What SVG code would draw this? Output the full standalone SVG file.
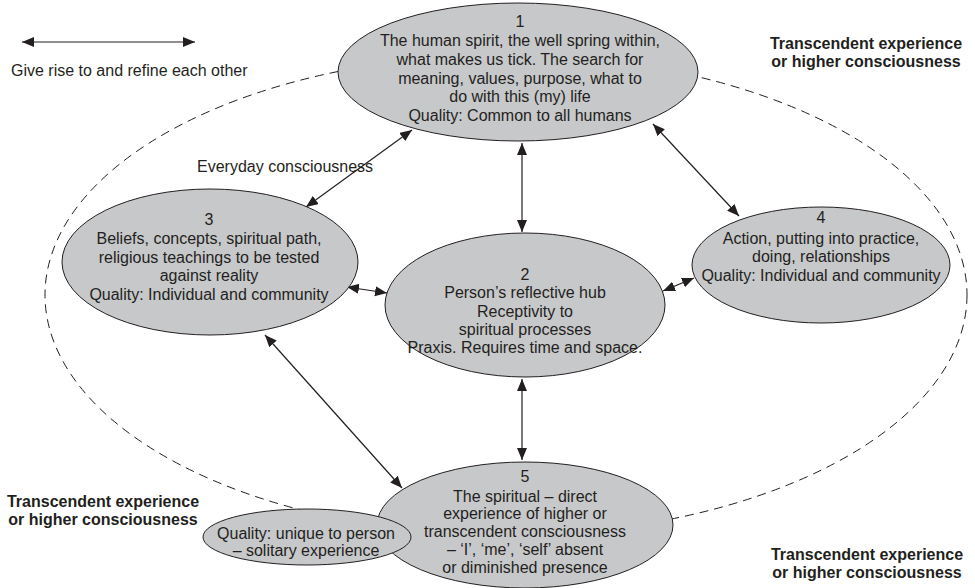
<svg xmlns="http://www.w3.org/2000/svg" width="975" height="588" viewBox="0 0 975 588">
<style>
.n{fill:#c7c8ca;stroke:#231f20;stroke-width:1}
.t{font-family:"Liberation Sans",Arial,sans-serif;font-size:16px;fill:#231f20;text-anchor:middle}
.b{font-family:"Liberation Sans",Arial,sans-serif;font-size:16px;font-weight:bold;fill:#231f20;text-anchor:middle}
.c{stroke:#231f20;stroke-width:1.2;fill:none;marker-start:url(#ah);marker-end:url(#ah)}
</style>
<defs>
<marker id="ah" markerUnits="userSpaceOnUse" markerWidth="13" markerHeight="11" refX="12" refY="5" orient="auto-start-reverse">
<path d="M0,0 L12,5 L0,10 z" fill="#231f20"/>
</marker>
</defs>
<rect width="975" height="588" fill="#fff"/>
<g id="outer">
<ellipse cx="506" cy="295" rx="461" ry="240" fill="none" stroke="#231f20" stroke-width="1" stroke-dasharray="9,6"/>
</g>
<g id="legend">
<line class="c" x1="22" y1="42" x2="195" y2="42"/>
<text x="11" y="76" class="t" style="text-anchor:start">Give rise to and refine each other</text>
</g>
<g id="labels">
<text class="b"><tspan x="866" y="49">Transcendent experience</tspan><tspan x="866" y="67">or higher consciousness</tspan></text>
<text class="b"><tspan x="103" y="507">Transcendent experience</tspan><tspan x="103" y="525">or higher consciousness</tspan></text>
<text class="b"><tspan x="867" y="560">Transcendent experience</tspan><tspan x="867" y="578">or higher consciousness</tspan></text>
<text x="197" y="172" class="t" style="text-anchor:start">Everyday consciousness</text>
</g>
<g id="connectors">
<line class="c" x1="412" y1="130" x2="306" y2="207"/>
<line class="c" x1="522" y1="143" x2="522" y2="232"/>
<line class="c" x1="653" y1="124" x2="739" y2="216"/>
<line class="c" x1="347" y1="287" x2="387" y2="293"/>
<line class="c" x1="663" y1="291" x2="694" y2="278"/>
<line class="c" x1="265" y1="335" x2="402" y2="488"/>
<line class="c" x1="522" y1="379" x2="522" y2="460"/>
</g>
<g id="node1">
<ellipse class="n" cx="518" cy="72" rx="180" ry="69"/>
<text class="t"><tspan x="520" y="27">1</tspan><tspan x="520" y="46">The human spirit, the well spring within,</tspan><tspan x="520" y="65">what makes us tick. The search for</tspan><tspan x="520" y="83.5">meaning, values, purpose, what to</tspan><tspan x="520" y="102">do with this (my) life</tspan><tspan x="520" y="121">Quality: Common to all humans</tspan></text>
</g>
<g id="node3">
<ellipse class="n" cx="210" cy="262" rx="148" ry="73"/>
<text class="t"><tspan x="209" y="225">3</tspan><tspan x="209" y="244">Beliefs, concepts, spiritual path,</tspan><tspan x="209" y="263">religious teachings to be tested</tspan><tspan x="209" y="281">against reality</tspan><tspan x="209" y="300">Quality: Individual and community</tspan></text>
</g>
<g id="node2">
<ellipse class="n" cx="525" cy="305" rx="140" ry="72"/>
<text class="t"><tspan x="525" y="280">2</tspan><tspan x="525" y="298">Person’s reflective hub</tspan><tspan x="525" y="317">Receptivity to</tspan><tspan x="525" y="335">spiritual processes</tspan><tspan x="525" y="353">Praxis. Requires time and space.</tspan></text>
</g>
<g id="node4">
<ellipse class="n" cx="821" cy="265" rx="129" ry="58"/>
<text class="t"><tspan x="821" y="223">4</tspan><tspan x="821" y="244">Action, putting into practice,</tspan><tspan x="821" y="262">doing, relationships</tspan><tspan x="821" y="281">Quality: Individual and community</tspan></text>
</g>
<g id="node5">
<ellipse class="n" cx="525" cy="525" rx="148" ry="63"/>
<text class="t"><tspan x="525" y="482">5</tspan><tspan x="525" y="502">The spiritual – direct</tspan><tspan x="525" y="519">experience of higher or</tspan><tspan x="525" y="537">transcendent consciousness</tspan><tspan x="525" y="555">– ‘I’, ‘me’, ‘self’ absent</tspan><tspan x="525" y="573">or diminished presence</tspan></text>
</g>
<g id="node6">
<ellipse class="n" cx="307" cy="537" rx="104" ry="28"/>
<text class="t"><tspan x="306" y="539">Quality: unique to person</tspan><tspan x="306" y="556">– solitary experience</tspan></text>
</g>
</svg>
